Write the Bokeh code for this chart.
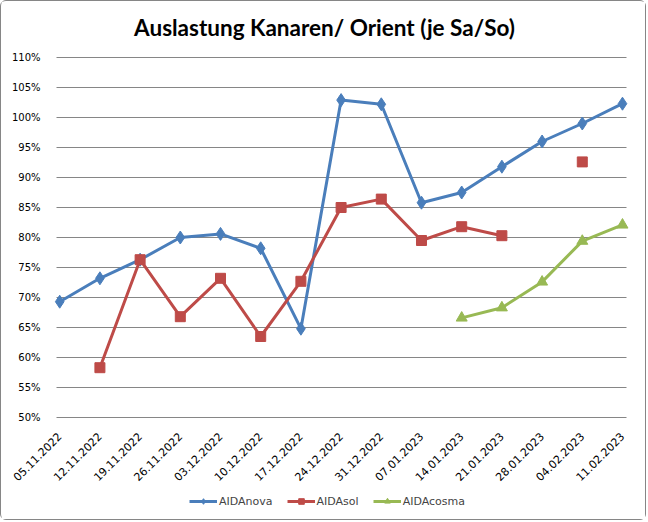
import math
from bokeh.plotting import figure
from bokeh.models import Range1d, FixedTicker, Legend, LegendItem, Label
from bokeh.embed import file_html
from bokeh.resources import INLINE

NaN = float("nan")

dates = ["05.11.2022", "12.11.2022", "19.11.2022", "26.11.2022", "03.12.2022",
         "10.12.2022", "17.12.2022", "24.12.2022", "31.12.2022", "07.01.2023",
         "14.01.2023", "21.01.2023", "28.01.2023", "04.02.2023", "11.02.2023"]

aidanova = [69.3, 73.2, 76.3, 80.0, 80.6, 78.2, 64.8, 102.9, 102.2, 85.8,
            87.5, 91.8, 96.0, 99.0, 102.3]
aidasol = [NaN, 58.3, 76.3, 66.8, 73.2, 63.5, 72.7, 85.0, 86.4, 79.5,
           81.8, 80.3, NaN, 92.6, NaN]
aidacosma = [NaN, NaN, NaN, NaN, NaN, NaN, NaN, NaN, NaN, NaN,
             66.6, 68.3, 72.6, 79.4, 82.1]

y_ticks = [50, 55, 60, 65, 70, 75, 80, 85, 90, 95, 100, 105, 110]

title_text = "Auslastung Kanaren/ Orient (je Sa/So)"

xs = list(range(len(dates)))

# ---- layout geometry (pixels in the figure) ----
W, H = 646, 520
FRAME_L, FRAME_R, FRAME_T, FRAME_B = 2, 640, 2, 515   # frame covers almost all
PLOT_L, PLOT_R = 55, 625          # visible plot area (gridlines)
PLOT_T, PLOT_B = 56, 416          # 110% and 50% lines
X_IN_LO, X_IN_HI = -0.08, 14.1    # data extent of visible plot area
Y_IN_LO, Y_IN_HI = 50, 110

ppx = (PLOT_R - PLOT_L) / (X_IN_HI - X_IN_LO)
ppy = (PLOT_B - PLOT_T) / (Y_IN_HI - Y_IN_LO)
x_lo = X_IN_LO - (PLOT_L - FRAME_L) / ppx
x_hi = X_IN_HI + (FRAME_R - PLOT_R) / ppx
y_lo = Y_IN_LO - (FRAME_B - PLOT_B) / ppy
y_hi = Y_IN_HI + (PLOT_T - FRAME_T) / ppy


def px_to_x(px):
    return X_IN_LO + (px - PLOT_L) / ppx


def py_to_y(py):
    return Y_IN_LO + (PLOT_B - py) / ppy


p = figure(width=W, height=H, output_backend="svg", toolbar_location=None,
           title=None,
           x_range=Range1d(x_lo, x_hi), y_range=Range1d(y_lo, y_hi),
           min_border_left=FRAME_L, min_border_right=W - FRAME_R,
           min_border_top=FRAME_T, min_border_bottom=H - FRAME_B)

p.outline_line_color = None
p.border_fill_color = "white"
p.background_fill_color = "white"
p.xgrid.grid_line_color = None
p.ygrid.grid_line_color = None

# horizontal gridlines limited to the plot area
n = len(y_ticks)
p.segment(x0=[X_IN_LO] * n, y0=y_ticks, x1=[X_IN_HI] * n, y1=y_ticks,
          line_color="#868686", line_width=1)

# y axis, drawn at the left edge of the plot area
p.yaxis.fixed_location = X_IN_LO
p.yaxis.ticker = FixedTicker(ticks=y_ticks)
p.yaxis.major_label_overrides = {t: f"{t}%" for t in y_ticks}
p.yaxis.axis_line_color = None
p.yaxis.major_tick_line_color = None
p.yaxis.minor_tick_line_color = None
p.yaxis.major_label_text_font = "DejaVu Sans"
p.yaxis.major_label_text_font_size = "10px"
p.yaxis.major_label_text_color = "black"
p.yaxis.major_label_standoff = 10

# x axis, drawn at the 50% line
p.xaxis.fixed_location = Y_IN_LO
p.xaxis.ticker = FixedTicker(ticks=xs)
p.xaxis.major_label_overrides = {i: d for i, d in enumerate(dates)}
p.xaxis.major_label_orientation = math.pi / 4
p.xaxis.axis_line_color = None
p.xaxis.major_tick_line_color = None
p.xaxis.minor_tick_line_color = None
p.xaxis.major_label_text_font = "DejaVu Sans"
p.xaxis.major_label_text_font_size = "11px"
p.xaxis.major_label_text_color = "black"
p.xaxis.major_label_standoff = 11

blue = "#4A7EBB"
red = "#BE4B48"
green = "#98B954"

l1 = p.line(xs, aidanova, line_color=blue, line_width=3)
m1 = p.scatter(xs, aidanova, marker="diamond", size=13, fill_color=blue, line_color=blue)
l2 = p.line(xs, aidasol, line_color=red, line_width=3)
m2 = p.scatter(xs, aidasol, marker="square", size=10, fill_color=red, line_color=red)
l3 = p.line(xs, aidacosma, line_color=green, line_width=3)
m3 = p.scatter(xs, aidacosma, marker="triangle", size=11, fill_color=green, line_color=green)

# title
p.add_layout(Label(x=px_to_x(323), y=py_to_y(26), text=title_text,
                   text_align="center", text_baseline="middle",
                   text_font="Lato", text_font_style="bold",
                   text_font_size="22.5px", text_color="black"))

legend = Legend(items=[LegendItem(label="AIDAnova", renderers=[l1, m1]),
                       LegendItem(label="AIDAsol", renderers=[l2, m2]),
                       LegendItem(label="AIDAcosma", renderers=[l3, m3])],
                orientation="horizontal", location=(186, 8),
                label_text_font="DejaVu Sans", label_text_font_size="11px",
                glyph_width=28, glyph_height=14, label_standoff=2, spacing=14,
                border_line_color=None, background_fill_alpha=0,
                padding=0, margin=0)
p.add_layout(legend, "center")

p.styles = {"border": "1px solid #868686", "border-radius": "6px"}

open("out.html", "w").write(file_html(p, INLINE))
